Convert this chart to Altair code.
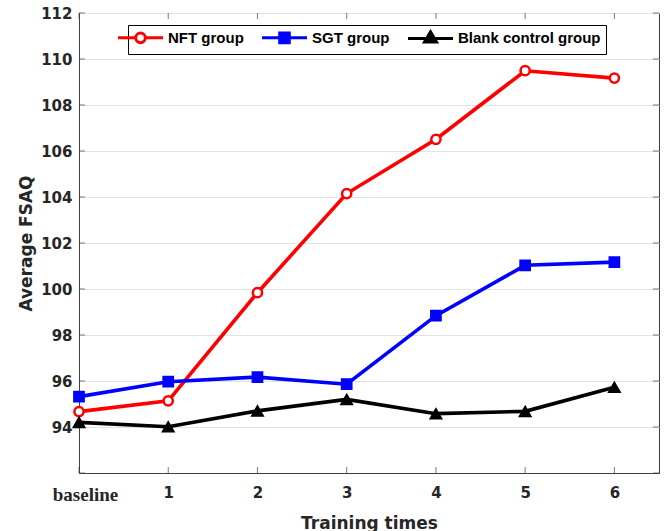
import altair as alt
import pandas as pd

# ---- data ----
stages = ["baseline", "1", "2", "3", "4", "5", "6"]
groups = ["NFT group", "SGT group", "Blank control group"]
nft = [94.67, 95.14, 99.84, 104.15, 106.51, 109.49, 109.17]
sgt = [95.32, 95.97, 96.17, 95.86, 98.84, 101.03, 101.17]
blank = [94.20, 94.01, 94.70, 95.20, 94.58, 94.68, 95.73]
y_ticks = [94, 96, 98, 100, 102, 104, 106, 108, 110, 112]
y_min, y_max = 92, 112

# ---- styles ----
colors = ["#ff0000", "#0000ff", "#000000"]
fills = ["#ffffff", "#0000ff", "#000000"]
shapes = ["circle", "square", "triangle-up"]
sizes = [85, 85, 135]
axis_col = "#404040"
grid_col = "#e3e3e3"

# legend symbols: line + marker (custom paths)
leg_paths = [
    "M-3.75,0H-0.8M0.8,0H3.75M0.8,0A0.8,0.8 0 1,1 -0.8,0A0.8,0.8 0 1,1 0.8,0Z",
    "M-3.75,0H3.75M-0.8,-0.8H0.8V0.8H-0.8Z",
    "M-3.75,0H3.75M0,-1.1L1,0.6H-1Z",
]

rows = []
for g, vals in zip(groups, [nft, sgt, blank]):
    for i, (s, v) in enumerate(zip(stages, vals)):
        rows.append({"group": g, "step": i, "stage": s, "value": v})
df = pd.DataFrame(rows)

label_expr = "[" + ",".join("'%s'" % s for s in stages) + "][datum.value]"

x_enc = alt.X(
    "step:Q",
    scale=alt.Scale(domain=[0, len(stages) - 0.5], nice=False, zero=False),
    axis=alt.Axis(
        values=list(range(len(stages))),
        labelExpr=label_expr,
        title="Training times",
        labelFlush=False,
        labelFont=alt.condition("datum.value == 0", alt.value("Liberation Serif"), alt.value("DejaVu Sans")),
        labelFontSize=alt.condition("datum.value == 0", alt.value(19), alt.value(15)),
        labelOffset=alt.condition("datum.value == 0", alt.value(6), alt.value(0)),
        labelPadding=12,
        titlePadding=11,
    ),
)
y_enc = alt.Y(
    "value:Q",
    scale=alt.Scale(domain=[y_min, y_max], nice=False, zero=False),
    axis=alt.Axis(values=y_ticks, title="Average FSAQ", labelPadding=7, titlePadding=5),
)

base = alt.Chart(df).encode(x=x_enc, y=y_enc)

layers = []
for g, c, f, sh, sz in zip(groups, colors, fills, shapes, sizes):
    sub = base.transform_filter(alt.datum.group == g)
    layers.append(sub.mark_line(color=c, strokeWidth=3.6))
    layers.append(
        sub.mark_point(shape=sh, size=sz, filled=True, fill=f, stroke=c,
                       strokeWidth=2.5 if sh != "triangle-up" else 1.5, opacity=1)
    )

legend = alt.Legend(
    title=None, orient="none", legendX=49, legendY=12, direction="horizontal",
    columns=3, symbolSize=144, symbolStrokeWidth=3, labelOffset=20,
    columnPadding=12, padding=5, strokeColor="#000000", fillColor="#ffffff",
    labelFont="Liberation Sans", labelFontWeight="bold", labelFontSize=15,
    labelColor="#000000", cornerRadius=0, symbolOpacity=1,
)
carrier = base.transform_filter("false").mark_point(filled=True, size=144, strokeWidth=3, opacity=1).encode(
    shape=alt.Shape("group:N", scale=alt.Scale(domain=groups, range=leg_paths), legend=legend),
    stroke=alt.Stroke("group:N", scale=alt.Scale(domain=groups, range=colors), legend=legend),
    fill=alt.Fill("group:N", scale=alt.Scale(domain=groups, range=fills), legend=legend),
)

# inward MATLAB-style ticks
ytick_df = pd.DataFrame({"value": [y_min] + y_ticks})
xtick_df = pd.DataFrame({"step": list(range(len(stages)))})
tick_style = dict(color=axis_col, thickness=1, size=6)
yt = alt.Chart(ytick_df)
xt = alt.Chart(xtick_df)
ticks = [
    yt.mark_tick(orient="horizontal", xOffset=3, **tick_style).encode(y=alt.Y("value:Q"), x=alt.datum(0)),
    yt.mark_tick(orient="horizontal", xOffset=-3, **tick_style).encode(y=alt.Y("value:Q"), x=alt.datum(len(stages) - 0.5)),
    xt.mark_tick(orient="vertical", yOffset=-3, **tick_style).encode(x=alt.X("step:Q"), y=alt.datum(y_min)),
    xt.mark_tick(orient="vertical", yOffset=3, **tick_style).encode(x=alt.X("step:Q"), y=alt.datum(y_max)),
]

chart = alt.layer(*ticks, *layers, carrier).properties(
    width=580, height=460,
    padding={"left": 79, "top": 13, "right": 5, "bottom": 58},
    autosize=alt.AutoSizeParams(type="none"),
).configure_view(
    stroke=axis_col, strokeWidth=1
).configure_axis(
    labelFont="DejaVu Sans", labelFontWeight="bold", labelFontSize=15, labelColor="#262626",
    titleFont="DejaVu Sans", titleFontWeight="bold", titleFontSize=17, titleColor="#262626",
    ticks=False, domainColor=axis_col, domainWidth=1, gridColor=grid_col, gridWidth=1,
    gridOpacity=1,
)

chart.save("out.html", embed_options={"renderer": "svg", "actions": False})
